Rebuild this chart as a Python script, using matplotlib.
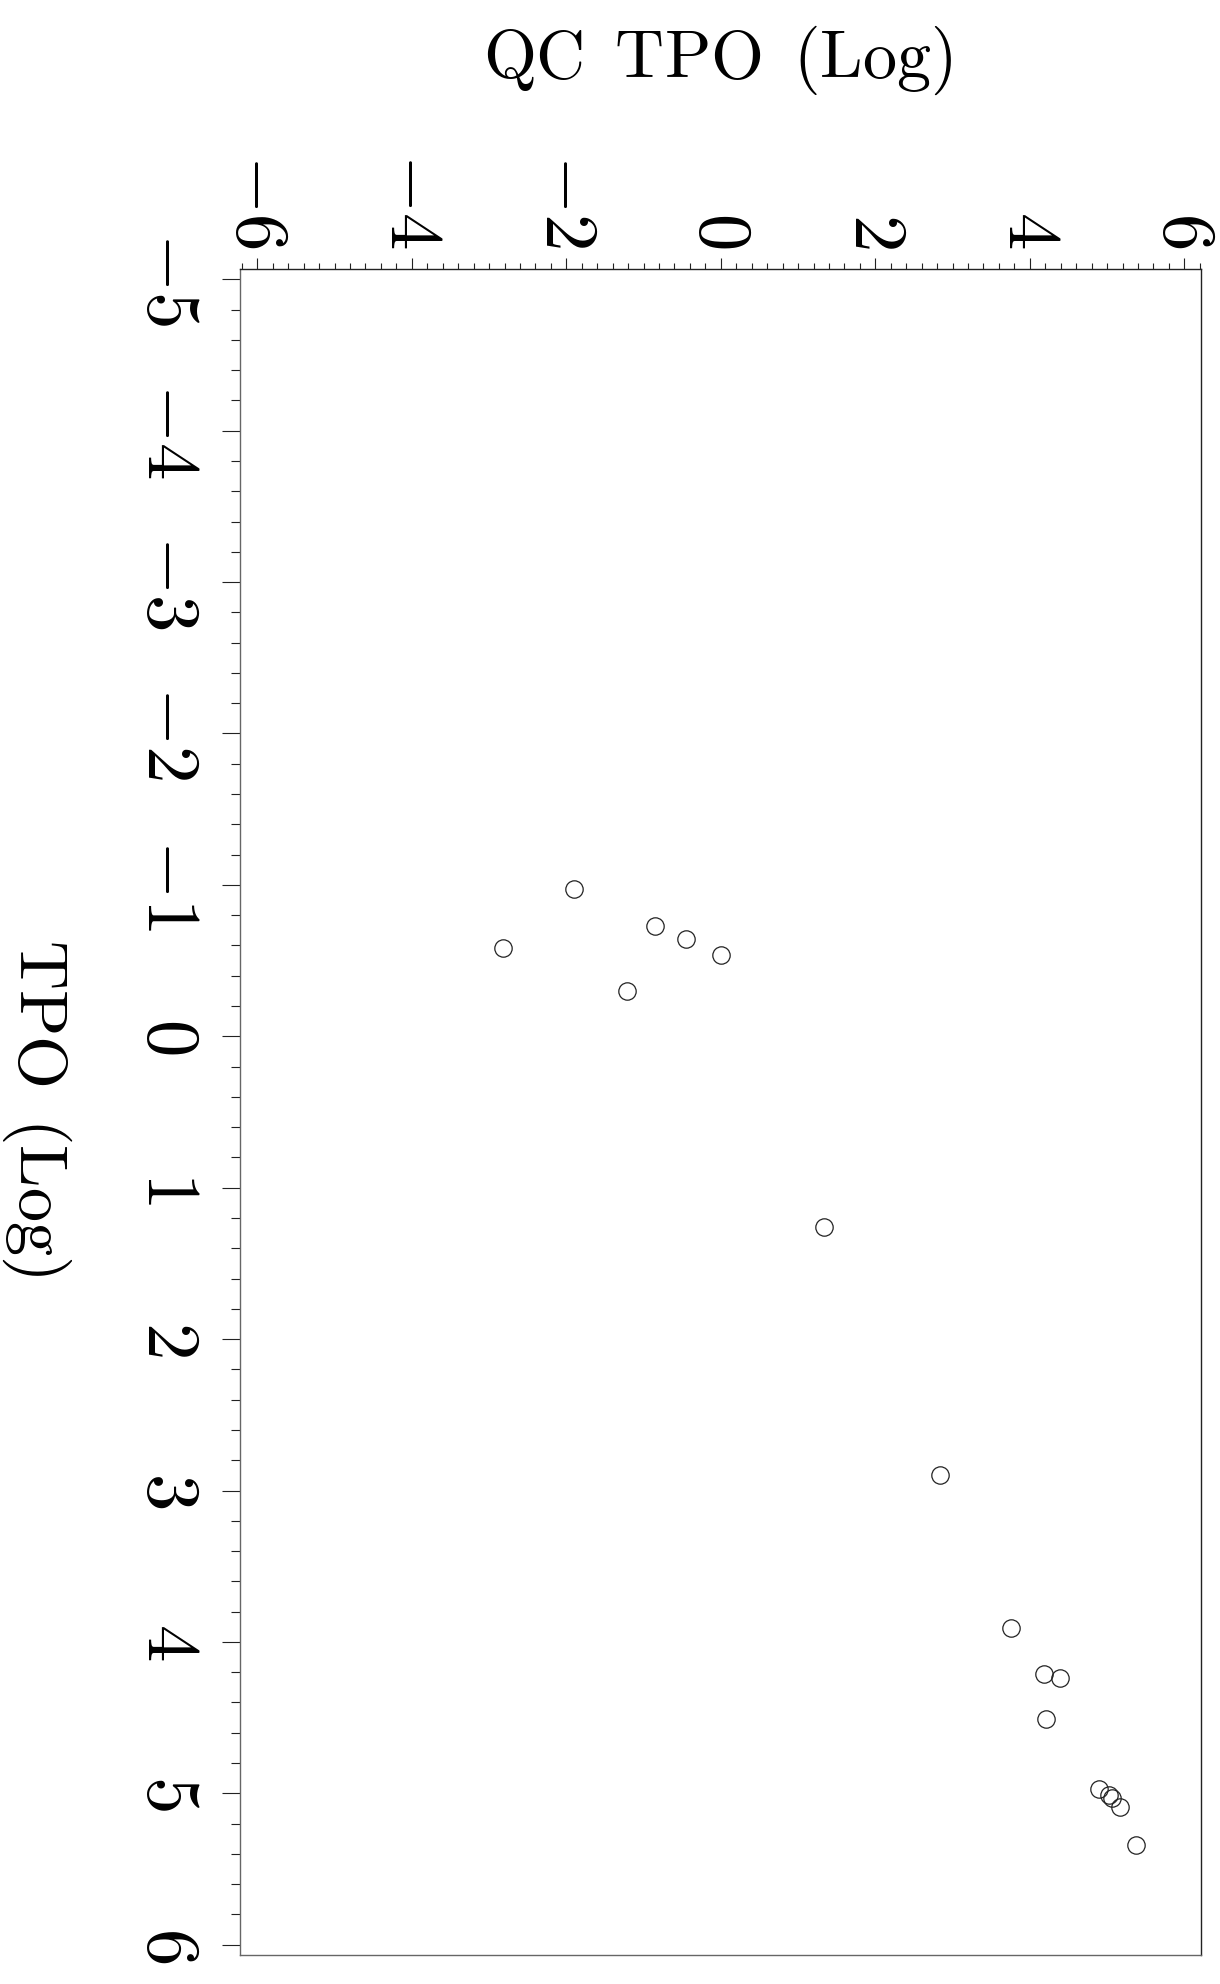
import matplotlib
matplotlib.use('Agg')
import matplotlib.pyplot as plt
from matplotlib.ticker import MultipleLocator, FuncFormatter

plt.rcParams['mathtext.fontset'] = 'cm'

# values (chart is drawn turned a quarter turn)
tpo = [-0.97, -0.58, -0.73, -0.64, -0.54, -0.30, 1.26, 2.90,
       3.91, 4.21, 4.24, 4.51, 4.97, 5.01, 5.03, 5.09, 5.34]
qc_tpo = [-1.90, -2.82, -0.85, -0.45, 0.00, -1.21, 1.33, 2.84,
          3.75, 4.18, 4.39, 4.21, 4.90, 5.03, 5.06, 5.17, 5.37]

fig = plt.figure(figsize=(12.2, 19.84), dpi=100)
ax = fig.add_axes([240 / 1220, 29 / 1984, 960.7 / 1220, 1685.7 / 1984])

ax.plot(qc_tpo, tpo, 'o', mfc='none', mec='#222222', ms=12.5, mew=0.9)

ax.set_xlim(-6.224, 6.212)
ax.set_ylim(6.068, -5.066)

# axes frame
for side in ['left', 'bottom']:
    ax.spines[side].set_color('#666666')
for side in ['top', 'right']:
    ax.spines[side].set_color('#222222')
for s in ax.spines.values():
    s.set_linewidth(1.0)

fmt = FuncFormatter(lambda v, p: r'$%d$' % round(v))

ax.xaxis.tick_top()
ax.xaxis.set_major_locator(MultipleLocator(2))
ax.xaxis.set_minor_locator(MultipleLocator(0.2))
ax.xaxis.set_major_formatter(fmt)
ax.tick_params(axis='x', which='major', length=8, width=0.8, pad=7,
               labelsize=54, labelrotation=-90, color='#222222')
ax.tick_params(axis='x', which='minor', length=4, width=0.8, color='#222222')

ax.yaxis.set_major_locator(MultipleLocator(1))
ax.yaxis.set_minor_locator(MultipleLocator(0.2))
ax.yaxis.set_major_formatter(fmt)
ax.tick_params(axis='y', which='major', length=13, width=0.8, pad=12,
               labelsize=54, labelrotation=-90, color='#222222')
ax.tick_params(axis='y', which='minor', length=6.5, width=0.8, color='#222222')

for lab in ax.get_yticklabels():
    lab.set_va('center')

ax.set_xlabel(r'$\mathrm{QC\ \,TPO\ \,(Log)}$', fontsize=49)
ax.xaxis.set_label_position('top')
ax.xaxis.label.set_va('baseline')
ax.xaxis.set_label_coords(0.497, 1.1135)

ax.set_ylabel(r'$\mathrm{TPO\ \,(Log)}$', fontsize=49, rotation=-90)
ax.yaxis.label.set_ha('center')
ax.yaxis.label.set_va('center')
ax.yaxis.set_label_coords(-0.2113, 0.5025)

fig.savefig('out.png', dpi=100)
plt.close(fig)
